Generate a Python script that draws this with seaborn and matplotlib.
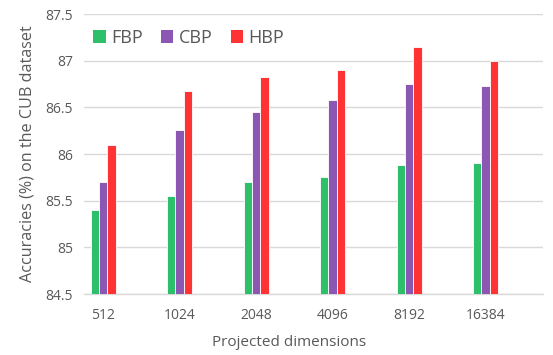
import pandas as pd
import matplotlib.pyplot as plt
import seaborn as sns
from matplotlib.patches import Patch

# values
dimensions = ['512', '1024', '2048', '4096', '8192', '16384']
methods = ['FBP', 'CBP', 'HBP']
fbp = [85.40, 85.55, 85.70, 85.75, 85.88, 85.90]
cbp = [85.70, 86.26, 86.45, 86.58, 86.75, 86.73]
hbp = [86.10, 86.67, 86.83, 86.90, 87.15, 87.00]
colors = ['#2EBF6B', '#8C56B3', '#FF3333']
y_ticks = [84.5, 85, 85.5, 86, 86.5, 87, 87.5]

sns.set_theme(style='white')
plt.rcParams['font.family'] = ['Open Sans', 'DejaVu Sans']
text_gray = '#595959'
grid_gray = '#D9D9D9'

df = pd.DataFrame({
    'Dimension': dimensions * 3,
    'Method': [m for m in methods for _ in dimensions],
    'Accuracy': fbp + cbp + hbp,
})

fig = plt.figure(figsize=(5.53, 3.55), dpi=100)
ax = fig.add_axes([84 / 553, 1 - 294 / 355, 459 / 553, 280 / 355])

sns.barplot(data=df, x='Dimension', y='Accuracy', hue='Method',
            order=dimensions, hue_order=methods, palette=colors,
            width=0.33, edgecolor='white', linewidth=0.6,
            saturation=1, errorbar=None, ax=ax, zorder=3)

ax.set_ylim(84.5, 87.5)
ax.set_xlim(-0.25, 5.75)
ax.set_yticks(y_ticks)
ax.set_yticklabels([f'{t:g}' for t in y_ticks])
ax.yaxis.grid(True, color=grid_gray, linewidth=1)
ax.set_axisbelow(True)

for side in ['top', 'right', 'left']:
    ax.spines[side].set_visible(False)
ax.spines['bottom'].set_color(grid_gray)
ax.spines['bottom'].set_linewidth(1)

ax.tick_params(axis='both', length=0, labelsize=10, colors=text_gray)
ax.tick_params(axis='x', pad=10)
ax.tick_params(axis='y', pad=8)

ax.set_xlabel('Projected dimensions', fontsize=11, color=text_gray)
ax.set_ylabel('Accuracies (%) on the CUB dataset', fontsize=11.6,
              color=text_gray)
ax.xaxis.set_label_coords(0.447, -0.145)
ax.yaxis.set_label_coords(-0.105, 0.5)

handles = [Patch(facecolor=c, edgecolor='none') for c in colors]
ax.legend(handles, methods, ncol=3, frameon=False, loc='center left',
          bbox_to_anchor=(0.0, 0.914), fontsize=13, labelcolor=text_gray,
          handlelength=0.7, handleheight=0.7, handletextpad=0.3,
          columnspacing=1.0, borderaxespad=0.1)

plt.savefig('out.png', dpi=100)
